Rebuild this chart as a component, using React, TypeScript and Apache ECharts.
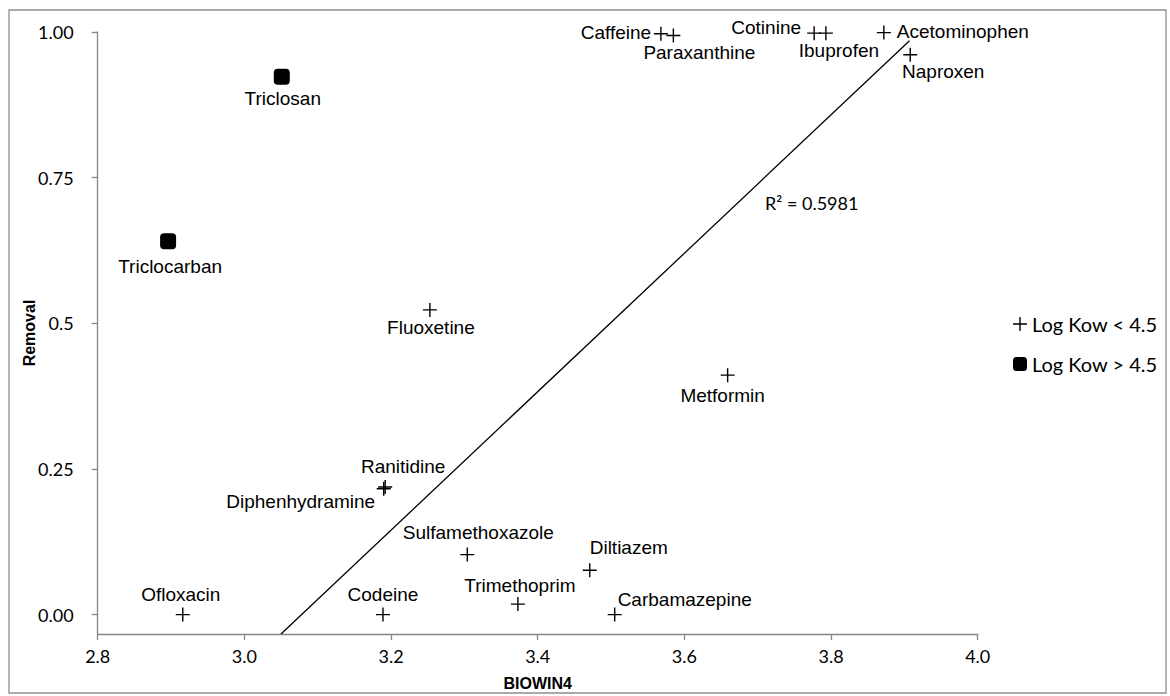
import React, { useEffect, useRef } from "react";
import * as echarts from "echarts";

// ---- data ----
const lowNames = [
  "Caffeine", "Paraxanthine", "Cotinine", "Ibuprofen", "Acetominophen", "Naproxen",
  "Fluoxetine", "Metformin", "Ranitidine", "Diphenhydramine", "Sulfamethoxazole",
  "Diltiazem", "Trimethoprim", "Carbamazepine", "Codeine", "Ofloxacin",
];
const lowX = [3.568, 3.585, 3.777, 3.793, 3.872, 3.908, 3.253, 3.659, 3.192, 3.19, 3.304, 3.471, 3.373, 3.505, 3.189, 2.916];
const lowY = [0.997, 0.994, 0.998, 0.998, 0.999, 0.961, 0.523, 0.411, 0.219, 0.216, 0.103, 0.076, 0.018, 0.0, 0.0, 0.0];

const highNames = ["Triclosan", "Triclocarban"];
const highX = [3.051, 2.896];
const highY = [0.923, 0.641];

const trendX = [3.05, 3.907];
const trendY = [-0.0333, 0.985];
const r2Text = "R² = 0.5981";

const seriesNames = ["Log Kow < 4.5", "Log Kow > 4.5"];
const yTickValues = [0, 0.25, 0.5, 0.75, 1];
const yTickLabels = ["0.00", "0.25", "0.5", "0.75", "1.00"];
const xAxisName = "BIOWIN4";
const yAxisName = "Removal";

// ---- label placement (offset from marker centre, px) ----
const labelOffsets: Record<string, [number, number]> = {
  Caffeine: [-45, -1],
  Paraxanthine: [26, 17],
  Cotinine: [-48, -6],
  Ibuprofen: [13, 17],
  Acetominophen: [79, -1],
  Naproxen: [33, 17],
  Fluoxetine: [1, 18],
  Metformin: [-5, 20],
  Ranitidine: [18, -21],
  Diphenhydramine: [-83, 13],
  Sulfamethoxazole: [11, -22],
  Diltiazem: [39, -23],
  Trimethoprim: [2, -19],
  Carbamazepine: [70, -15],
  Codeine: [0, -20],
  Ofloxacin: [-2, -20],
  Triclosan: [1, 22],
  Triclocarban: [2, 25],
};

const PLUS = "path://M0,6.3H14V7.7H0Z M6.3,0H7.7V14H6.3Z";
const LABEL_FONT = "'Liberation Sans', Arial, sans-serif";
const TICK_FONT = "Lato, 'Open Sans', sans-serif";

function makePoints(names: string[], xs: number[], ys: number[]) {
  return names.map((n, i) => ({
    name: n,
    value: [xs[i], ys[i]],
    label: { offset: labelOffsets[n] || [0, 0] },
  }));
}

export default function App() {
  const ref = useRef<HTMLDivElement>(null);
  useEffect(() => {
    if (!ref.current) return;
    const chart = echarts.init(ref.current, null, { renderer: "svg" });
    const labelStyle = {
      show: true,
      position: "inside",
      formatter: "{b}",
      color: "#000",
      opacity: 1,
      fontFamily: LABEL_FONT,
      fontSize: 19,
      align: "center",
      verticalAlign: "middle",
    };
    chart.setOption({
      animation: false,
      backgroundColor: "#fff",
      grid: { left: 97.7, right: 192.3, top: 32, bottom: 59, containLabel: false },
      xAxis: {
        type: "value",
        min: 2.8,
        max: 4.0,
        interval: 0.2,
        name: xAxisName,
        nameLocation: "middle",
        nameGap: 41,
        nameMoveOverlap: false,
        nameTextStyle: { fontFamily: LABEL_FONT, fontWeight: "bold", fontSize: 16, color: "#000" },
        axisLine: { onZero: false, lineStyle: { color: "#868686", width: 1.3 } },
        axisTick: { show: true, length: 6, lineStyle: { color: "#868686", width: 1.3 } },
        axisLabel: {
          margin: 13,
          color: "#000",
          fontFamily: TICK_FONT,
          fontSize: 18,
          formatter: (v: number) => v.toFixed(1),
        },
        splitLine: { show: false },
      },
      yAxis: {
        type: "value",
        min: trendY[0],
        max: 1,
        name: yAxisName,
        nameLocation: "middle",
        nameGap: 60,
        nameMoveOverlap: false,
        nameTextStyle: { fontFamily: LABEL_FONT, fontWeight: "bold", fontSize: 16, color: "#000" },
        axisLine: { show: true, onZero: false, lineStyle: { color: "#868686", width: 1.3 } },
        axisTick: { show: true, length: 6, customValues: yTickValues, lineStyle: { color: "#868686", width: 1.3 } },
        axisLabel: {
          margin: 24,
          color: "#000",
          fontFamily: TICK_FONT,
          fontSize: 18,
          customValues: yTickValues,
          formatter: (v: number) => {
            const i = yTickValues.findIndex((t) => Math.abs(t - v) < 1e-6);
            return i >= 0 ? yTickLabels[i] : "";
          },
        },
        splitLine: { show: false },
      },
      legend: {
        orient: "vertical",
        left: 1008,
        top: 309,
        itemWidth: 14,
        itemHeight: 14,
        itemGap: 20,
        textStyle: { fontFamily: TICK_FONT, fontSize: 20, color: "#000" },
        data: [
          { name: seriesNames[0], icon: PLUS, itemStyle: { color: "#000", opacity: 1 } },
          { name: seriesNames[1], icon: "roundRect", itemStyle: { color: "#000", opacity: 1 } },
        ],
        selectedMode: false,
      },
      graphic: [
        {
          type: "rect",
          shape: { x: 9, y: 10, width: 1157, height: 683 },
          style: { fill: "none", stroke: "#8e8e8e", lineWidth: 1.3 },
          silent: true,
        },
        {
          type: "text",
          left: 765,
          top: 194,
          style: { text: r2Text, fill: "#000", font: `18px ${TICK_FONT}` },
          silent: true,
        },
      ],
      series: [
        {
          name: "trend",
          type: "line",
          data: trendX.map((x, i) => [x, trendY[i]]),
          symbol: "none",
          lineStyle: { color: "#000", width: 1.3 },
          silent: true,
          z: 1,
        },
        {
          name: seriesNames[0],
          type: "scatter",
          symbol: PLUS,
          symbolSize: 14,
          itemStyle: { color: "#000", opacity: 1 },
          label: labelStyle,
          data: makePoints(lowNames, lowX, lowY),
          z: 3,
        },
        {
          name: seriesNames[1],
          type: "scatter",
          symbol: "roundRect",
          symbolSize: 16,
          itemStyle: { color: "#000", opacity: 1 },
          label: labelStyle,
          data: makePoints(highNames, highX, highY),
          z: 3,
        },
      ],
    });
    return () => chart.dispose();
  }, []);
  return (
    <div
      ref={ref}
      style={{ position: "absolute", left: 0, top: 0, width: 1170, height: 696, background: "#fff" }}
    />
  );
}
